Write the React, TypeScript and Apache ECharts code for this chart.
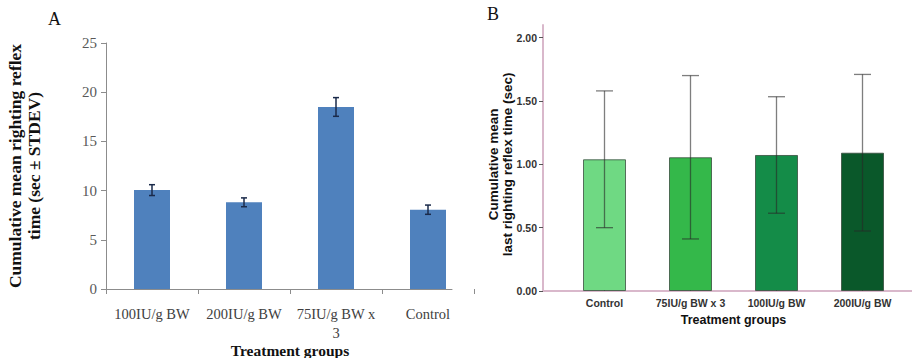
import React, { useEffect, useRef } from "react";
import * as echarts from "echarts";

// Panel A data
const catsA = ["100IU/g BW", "200IU/g BW", "75IU/g BW x\n3", "Control"];
const meansA = [10.05, 8.81, 18.5, 8.06];
const sdA = [0.55, 0.45, 0.95, 0.47];
const ticksA = { min: 0, max: 25, interval: 5 };

// Panel B data
const catsB = ["Control", "75IU/g BW x 3", "100IU/g BW", "200IU/g BW"];
const meansB = [1.04, 1.056, 1.074, 1.092];
const sdB = [0.54, 0.645, 0.46, 0.618];
const ticksB = { min: 0, max: 2, interval: 0.5 };

const colorsB = ["#6fd983", "#34b84a", "#148c48", "#0a582a"];
const SERIF = "'Liberation Serif', 'Times New Roman', serif";
const SANS = "'Liberation Sans', Arial, sans-serif";
const PINK = "#d9b8cb";

function errRender(cap: number, color: string, width: number) {
  return (params: any, api: any) => {
    const xi = api.value(0);
    const lo = api.value(1);
    const hi = api.value(2);
    const t = api.coord([xi, hi]);
    const b = api.coord([xi, lo]);
    const h = cap / 2;
    const style = { stroke: color, lineWidth: width };
    return {
      type: "group",
      children: [
        { type: "line", shape: { x1: t[0], y1: t[1], x2: b[0], y2: b[1] }, style },
        { type: "line", shape: { x1: t[0] - h, y1: t[1], x2: t[0] + h, y2: t[1] }, style },
        { type: "line", shape: { x1: b[0] - h, y1: b[1], x2: b[0] + h, y2: b[1] }, style },
      ],
    };
  };
}

export default function App() {
  const ref = useRef<HTMLDivElement>(null);
  useEffect(() => {
    if (!ref.current) return;
    const chart = echarts.init(ref.current, undefined, { renderer: "svg" });
    const errA = meansA.map((m, i) => [i, m - sdA[i], m + sdA[i]]);
    const errB = meansB.map((m, i) => [i, m - sdB[i], m + sdB[i]]);
    const option: any = {
      animation: false,
      backgroundColor: "#ffffff",
      grid: [
        { left: 106, top: 43, width: 368, height: 246, outerBoundsMode: "none", containLabel: false },
        { left: 106, top: 43, width: 346, height: 246, outerBoundsMode: "none", containLabel: false },
        { left: 561.5, top: 37.7, width: 344, height: 253.3, outerBoundsMode: "none", containLabel: false },
        { left: 543, top: 25, width: 369, height: 266, outerBoundsMode: "none", containLabel: false },
      ],
      xAxis: [
        {
          gridIndex: 0,
          type: "category",
          data: catsA,
          axisLine: { show: false },
          axisTick: { show: true, length: 5, lineStyle: { color: "#8c8c8c" } },
          axisLabel: {
            fontFamily: SERIF,
            fontSize: 14.5,
            color: "#404040",
            margin: 15,
            lineHeight: 19,
            interval: 0,
          },
          name: "Treatment groups",
          nameLocation: "middle",
          nameGap: 53,
          nameMoveOverlap: false,
          nameTextStyle: { fontFamily: SERIF, fontSize: 15.5, fontWeight: "bold", color: "#111", verticalAlign: "top" },
        },
        {
          gridIndex: 1,
          type: "value",
          min: 0,
          max: 1,
          axisLine: { show: true, lineStyle: { color: "#8c8c8c", width: 1 } },
          axisTick: { show: false },
          axisLabel: { show: false },
          splitLine: { show: false },
        },
        {
          gridIndex: 2,
          type: "category",
          data: catsB,
          axisLine: { show: false },
          axisTick: { show: true, alignWithLabel: true, inside: true, length: 5, lineStyle: { color: "#555" } },
          axisLabel: {
            fontFamily: SANS,
            fontSize: 10.5,
            fontWeight: "bold",
            color: "#333",
            margin: 6,
            interval: 0,
          },
          name: "Treatment groups",
          nameLocation: "middle",
          nameGap: 22,
          nameMoveOverlap: false,
          nameTextStyle: { fontFamily: SANS, fontSize: 12.5, fontWeight: "bold", color: "#111", verticalAlign: "top" },
        },
        {
          gridIndex: 3,
          type: "value",
          min: 0,
          max: 1,
          axisLine: { show: true, lineStyle: { color: PINK, width: 2 } },
          axisTick: { show: false },
          axisLabel: { show: false },
          splitLine: { show: false },
        },
      ],
      yAxis: [
        {
          gridIndex: 0,
          type: "value",
          min: ticksA.min,
          max: ticksA.max,
          interval: ticksA.interval,
          axisLine: { show: true, lineStyle: { color: "#8c8c8c" } },
          axisTick: { show: true, length: 5, lineStyle: { color: "#8c8c8c" } },
          axisLabel: { fontFamily: SERIF, fontSize: 15, color: "#595959", margin: 9 },
          splitLine: { show: false },
          name: "Cumulative mean righting reflex\ntime (sec ± STDEV)",
          nameLocation: "middle",
          nameGap: 63,
          nameMoveOverlap: false,
          nameTextStyle: { fontFamily: SERIF, fontSize: 17.5, fontWeight: "bold", color: "#111", lineHeight: 19 },
        },
        {
          gridIndex: 1,
          type: "value",
          min: 0,
          max: 1,
          show: false,
        },
        {
          gridIndex: 2,
          type: "value",
          min: ticksB.min,
          max: ticksB.max,
          interval: ticksB.interval,
          offset: 18.5,
          axisLine: { show: false },
          axisTick: { show: true, length: 4, lineStyle: { color: "#555" } },
          axisLabel: {
            fontFamily: SANS,
            fontSize: 10.5,
            fontWeight: "bold",
            color: "#333",
            margin: 6,
            formatter: (v: number) => v.toFixed(2),
          },
          splitLine: { show: false },
          name: "Cumulative mean\nlast righting reflex time (sec)",
          nameLocation: "middle",
          nameGap: 29,
          nameMoveOverlap: false,
          nameTextStyle: { fontFamily: SANS, fontSize: 13.5, fontWeight: "bold", color: "#111", lineHeight: 14 },
        },
        {
          gridIndex: 3,
          type: "value",
          min: 0,
          max: 1,
          axisLine: { show: true, lineStyle: { color: PINK, width: 2 } },
          axisTick: { show: false },
          axisLabel: { show: false },
          splitLine: { show: false },
        },
      ],
      series: [
        {
          type: "bar",
          xAxisIndex: 0,
          yAxisIndex: 0,
          data: meansA,
          barWidth: 36,
          itemStyle: { color: "#4f81bd" },
        },
        {
          type: "custom",
          xAxisIndex: 0,
          yAxisIndex: 0,
          data: errA,
          encode: { x: 0, y: [1, 2] },
          renderItem: errRender(6, "#1a2a4a", 1.5),
          z: 5,
        },
        {
          type: "bar",
          xAxisIndex: 2,
          yAxisIndex: 2,
          data: meansB.map((v, i) => ({
            value: v,
            itemStyle: { color: colorsB[i], borderColor: "rgba(50,70,55,0.75)", borderWidth: 1 },
          })),
          barWidth: 43,
        },
        {
          type: "custom",
          xAxisIndex: 2,
          yAxisIndex: 2,
          data: errB,
          encode: { x: 0, y: [1, 2] },
          renderItem: errRender(17, "rgba(40,40,40,0.6)", 1.3),
          z: 5,
        },
      ],
      graphic: [
        {
          type: "text",
          left: 48,
          top: 10,
          style: { text: "A", fontFamily: SERIF, fontSize: 18, fill: "#111" },
        },
        {
          type: "text",
          left: 487,
          top: 5,
          style: { text: "B", fontFamily: SERIF, fontSize: 18, fill: "#111" },
        },
      ],
    };
    chart.setOption(option);
    return () => chart.dispose();
  }, []);
  return (
    <div
      ref={ref}
      style={{ position: "fixed", left: 0, top: 0, width: 912, height: 358, background: "#fff" }}
    />
  );
}
